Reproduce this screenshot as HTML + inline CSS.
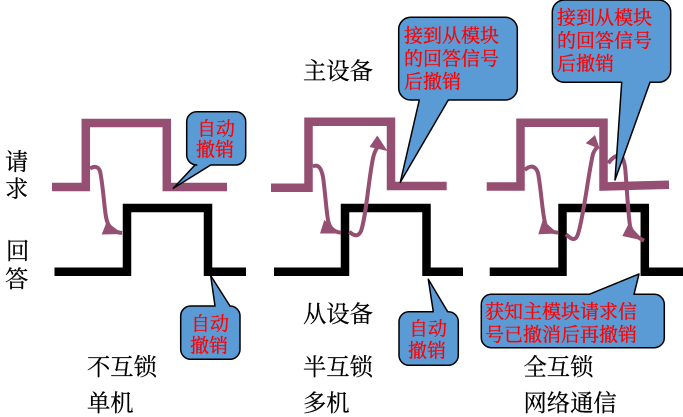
<!DOCTYPE html>
<html><head><meta charset="utf-8">
<style>
html,body{margin:0;padding:0;background:#fff;width:683px;height:417px;overflow:hidden}
svg{display:block}
text{font-family:"Liberation Serif","Noto Serif CJK SC",serif}
.k{font-size:23.300px;fill:#000;stroke:#000;stroke-width:.25}
.r{font-size:19px;fill:#f00;stroke:#f00;stroke-width:.3}
.c{fill:#5b9bd5;stroke:#000;stroke-width:1.5;stroke-linejoin:round}
.p{fill:none;stroke:#954f72;stroke-width:8.5}
.b{fill:none;stroke:#000;stroke-width:8.5}
.w{fill:none;stroke:#954f72;stroke-width:4}
.h{fill:#954f72}
</style></head><body>
<svg width="683" height="417" viewBox="0 0 683 417" xmlns="http://www.w3.org/2000/svg">
<!-- panel 1 -->
<path class="p" d="M52 187H85.800V123H166.800V187H227"/>
<path class="b" d="M54.500 271.700H127V208H208V271.700H246"/>
<path class="w" d="M90 168.500C94 166 98 166 100 171C103 185 104 205 106 217C108 228 113 232 122 233"/>
<path class="h" d="M101.700 234.500L106.700 221.700L122.700 234Z"/>
<!-- panel 2 -->
<path class="p" d="M271 187.700H308.500V121.700H391V186H446.700"/>
<path class="b" d="M274 271.700H345V208H426.500V271.700H463"/>
<path class="w" d="M312.700 166.700C317 164 321 166 323 177C325 190 326 208 328 220C330 230 335 232 341 232.700"/>
<path class="h" d="M320 233.500L324.300 220L341 233.500Z"/>
<path class="w" d="M349.300 231.700C353 235 358 238 361 231C366 218 369 175 373.300 157C374.500 152 376 149 378 147"/>
<path class="h" d="M369.500 147L377.300 135.500L387.500 151Z"/>
<!-- panel 3 -->
<path class="p" d="M486.700 186.500H520.500V122.800H603.500V186.500L669 184.700"/>
<path class="b" d="M489.700 271.700H562.500V208H644.800V271.700H683"/>
<path class="w" d="M524.700 170C529 166 535 164 538 173C541 188 542 210 545 223C547 231 552 232 558 232.700"/>
<path class="h" d="M538.300 234.300L542.700 220L558 233.500Z"/>
<path class="w" d="M566 234.300C570 238 575 243 578 234C584 215 588 175 593 154C594.500 150 596 148 598 147"/>
<path class="h" d="M585.700 143.300L595 135L599.800 149Z"/>
<path class="w" d="M608.300 163.300C612 158 618 153 621.700 157C624 160 625 165 625.500 172C627 190 628 212 630 226C632 233 638 238 644 240.700"/>
<path class="h" d="M622.300 236L628.500 224L644 240.700Z"/>
<!-- callouts -->
<path class="c" d="M196.700 111.700H235.700A10 10 0 0 1 245.700 121.700V155A10 10 0 0 1 235.700 165H210.700L173.300 188.300L195 165H196.700A10 10 0 0 1 186.700 155V121.700A10 10 0 0 1 196.700 111.700Z"/>
<path class="c" d="M190.700 306H215L210.700 275.700L230 306A10 10 0 0 1 240 316V349.300A10 10 0 0 1 230 359.300H190.700A10 10 0 0 1 180.700 349.300V316A10 10 0 0 1 190.700 306Z"/>
<path class="c" d="M410.700 17.300H505.300A12 12 0 0 1 517.300 29.300V88A12 12 0 0 1 505.300 100H448.300L400.300 182.300L419.300 100H410.700A12 12 0 0 1 398.700 88V29.300A12 12 0 0 1 410.700 17.300Z"/>
<path class="c" d="M564.300 0H658.700A12 12 0 0 1 670.700 12V70.300A12 12 0 0 1 658.700 82.300H650L615 180L621.700 82.300H564.300A12 12 0 0 1 552.300 70.300V12A12 12 0 0 1 564.300 0Z"/>
<path class="c" d="M409 311.700H433.300L428.300 279.300L447.700 311.700H448.300A10 10 0 0 1 458.300 321.700V355.300A10 10 0 0 1 448.300 365.300H409A10 10 0 0 1 399 355.300V321.700A10 10 0 0 1 409 311.700Z"/>
<path class="c" d="M491.300 294.300H589.300L639 274L634 294.300H654.300A10 10 0 0 1 664.300 304.300V337.700A10 10 0 0 1 654.300 347.700H491.300A10 10 0 0 1 481.300 337.700V304.300A10 10 0 0 1 491.300 294.300Z"/>
<!-- red labels -->
<text class="r" x="197" y="135">自动</text>
<text class="r" x="196" y="156">撤销</text>
<text class="r" x="191" y="330">自动</text>
<text class="r" x="190" y="352">撤销</text>
<text class="r" x="409" y="335">自动</text>
<text class="r" x="408" y="357">撤销</text>
<text class="r" x="404" y="42">接到从模块</text>
<text class="r" x="404" y="65">的回答信号</text>
<text class="r" x="404" y="88">后撤销</text>
<text class="r" x="557" y="24">接到从模块</text>
<text class="r" x="557" y="47">的回答信号</text>
<text class="r" x="557" y="70">后撤销</text>
<text class="r" x="485" y="318">获知主模块请求信</text>
<text class="r" x="485" y="341">号已撤消后再撤销</text>
<!-- black labels -->
<text class="k" x="5" y="170">请</text>
<text class="k" x="5" y="197">求</text>
<text class="k" x="6" y="259">回</text>
<text class="k" x="5" y="287">答</text>
<text class="k" x="303" y="79">主设备</text>
<text class="k" x="303" y="322">从设备</text>
<text class="k" x="87" y="375">不互锁</text>
<text class="k" x="87" y="411">单机</text>
<text class="k" x="303" y="375">半互锁</text>
<text class="k" x="303" y="411">多机</text>
<text class="k" x="523.500" y="375">全互锁</text>
<text class="k" x="523.500" y="411">网络通信</text>
</svg>
</body></html>
